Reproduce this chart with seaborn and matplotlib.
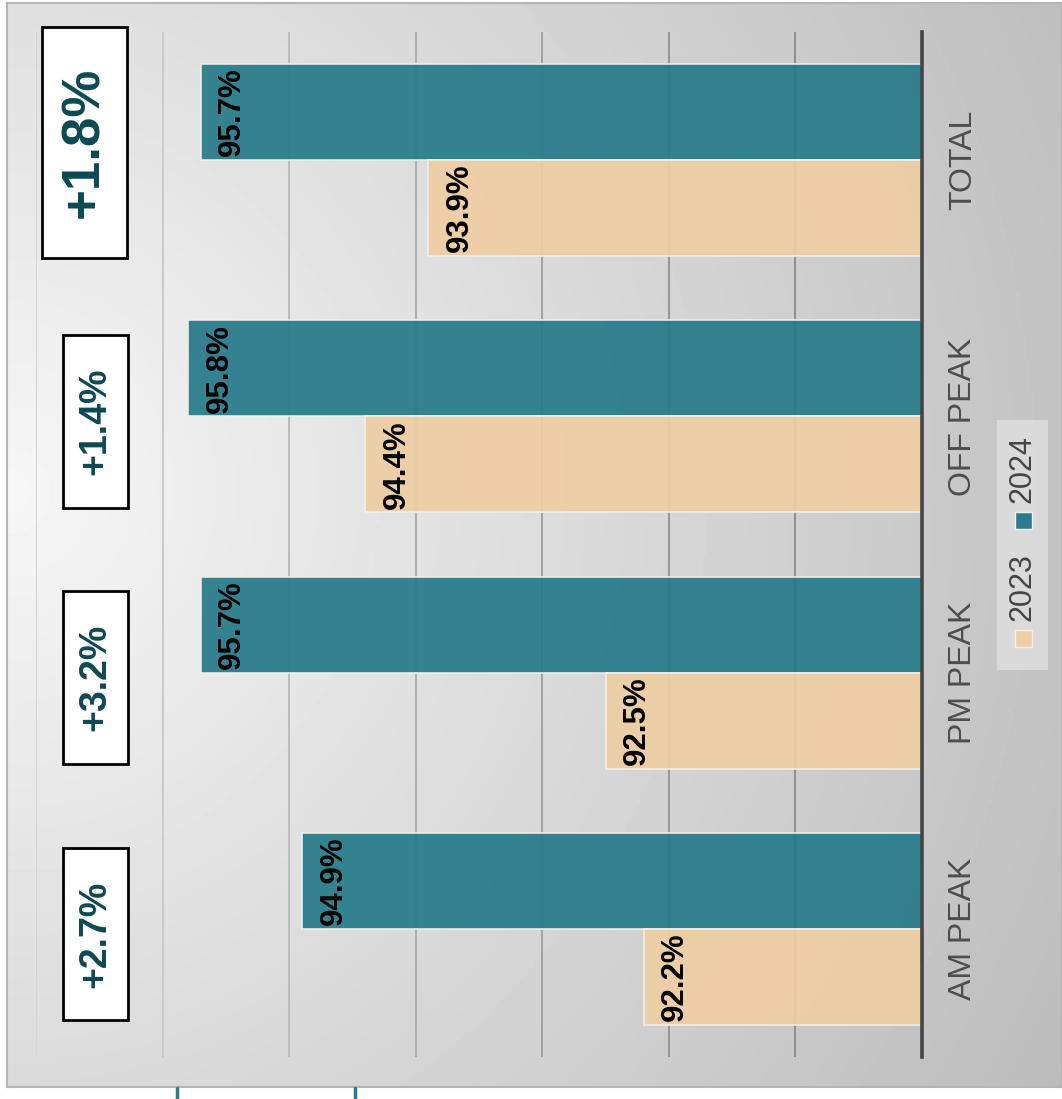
import numpy as np
import pandas as pd
import seaborn as sns
import matplotlib.pyplot as plt
from matplotlib.patches import Rectangle
from matplotlib.lines import Line2D

categories = ['TOTAL', 'OFF PEAK', 'PM PEAK', 'AM PEAK']
years = ['2024', '2023']
values_2024 = [95.7, 95.8, 95.7, 94.9]
values_2023 = [93.9, 94.4, 92.5, 92.2]
changes = ['+1.8%', '+1.4%', '+3.2%', '+2.7%']

teal = '#2a7d8c'
tan = '#eecea4'
W, H = 1062, 1099


def fx(px):
    return px / W


def fy(py):
    return 1 - py / H


def main():
    df = pd.DataFrame({
        'Period': categories * 2,
        'Year': ['2024'] * 4 + ['2023'] * 4,
        'Share': values_2024 + values_2023,
    })

    sns.set_theme(style='white')
    plt.rcParams['font.family'] = ['Liberation Sans', 'DejaVu Sans']

    fig = plt.figure(figsize=(W / 100, H / 100), dpi=100, facecolor='white')

    # gray radial background panel
    bg = fig.add_axes([fx(7), fy(1087), 1 - fx(7), fy(3) - fy(1087)], zorder=0)
    yy, xx = np.mgrid[0:1:300j, 0:1:300j]
    shade = 0.965 - 0.2 * np.sqrt(xx ** 2 + (yy - 0.45) ** 2)
    bg.imshow(shade, cmap='gray', vmin=0, vmax=1, aspect='auto')
    bg.set_xticks([])
    bg.set_yticks([])
    for s in bg.spines.values():
        s.set_color('#b5b5b5')
        s.set_linewidth(1.5)

    ax = fig.add_axes([fx(36), fy(1057), fx(922) - fx(36), fy(32) - fy(1057)], zorder=1)
    ax.patch.set_alpha(0)

    sns.barplot(data=df, x='Share', y='Period', hue='Year', order=categories,
                hue_order=years, palette={'2024': teal, '2023': tan}, saturation=1,
                orient='h', width=0.75, alpha=0.95, edgecolor='#f3efe9',
                linewidth=1.2, errorbar=None, legend=False, ax=ax)

    ax.set_xlim(97, 90)
    ax.set_xticks(range(90, 98))
    ax.set_xticklabels([])
    ax.set_axisbelow(True)
    ax.xaxis.grid(True, linewidth=1.4)
    grid_cols = {97: '#d4d4d4', 96: '#cacaca', 95: '#bcbcbc', 94: '#adadad',
                 93: '#a2a2a2', 92: '#959595', 91: '#8e8e8e', 90: '#8e8e8e'}
    for gl, v in zip(ax.get_xgridlines(), range(90, 98)):
        gl.set_color(grid_cols[v])
    ax.tick_params(axis='x', length=0)

    for side in ['top', 'left', 'bottom']:
        ax.spines[side].set_visible(False)
    ax.spines['right'].set_color('#454545')
    ax.spines['right'].set_linewidth(2.6)

    ax.yaxis.tick_right()
    ax.tick_params(axis='y', length=0, pad=19, labelsize=23, labelcolor='#4d4d4d')
    for lbl in ax.get_yticklabels():
        lbl.set_rotation(90)
        lbl.set_va('center')
    ax.set_xlabel('')
    ax.set_ylabel('')

    # value labels at the bar ends
    for container, vals in zip(ax.containers, [values_2024, values_2023]):
        for bar, v in zip(container, vals):
            ax.annotate(f'{v}%', xy=(v, bar.get_y() + bar.get_height() / 2),
                        xytext=(12, 0), textcoords='offset points',
                        rotation=90, ha='left', va='center',
                        fontsize=22.5, fontweight='bold', color='black')

    # change boxes
    for i, txt in enumerate(changes):
        big = i == 0
        xc = 96.62 if big else 96.53
        bw = 0.671 if big else 0.513
        bh = 0.90 if big else 0.675
        yc = i + (-0.07 if big else 0.02)
        ax.add_patch(Rectangle((xc - bw / 2, yc - bh / 2), bw, bh, facecolor='white',
                               edgecolor='black', linewidth=2, zorder=5, clip_on=False))
        ax.text(xc, yc, txt, rotation=90, ha='center', va='center', zorder=6,
                fontsize=38 if big else 27, fontweight='bold', color='#0c4a53')

    # legend, rotated like the rest of the chart
    fig.add_artist(Rectangle((fx(997), fy(670)), fx(51), 250 / H, transform=fig.transFigure,
                             facecolor='#dedede', edgecolor='none', alpha=0.85, zorder=3))
    for col, ytop, label, ytext in [(tan, 630, '2023', 587), (teal, 512, '2024', 469)]:
        fig.add_artist(Rectangle((fx(1015), fy(ytop + 17)), fx(17), 17 / H,
                                 transform=fig.transFigure, facecolor=col,
                                 edgecolor='#f3efe9', linewidth=1, zorder=4))
        fig.text(fx(1022), fy(ytext), label, rotation=90, ha='center', va='center',
                 fontsize=22, color='#444444', zorder=5)

    # stubs under the panel
    for px in [177, 355]:
        fig.add_artist(Line2D([fx(px), fx(px)], [fy(1088), 0], color=teal, linewidth=2.5))

    fig.savefig('out.png', dpi=100, facecolor='white')


if __name__ == "__main__":
    main()
